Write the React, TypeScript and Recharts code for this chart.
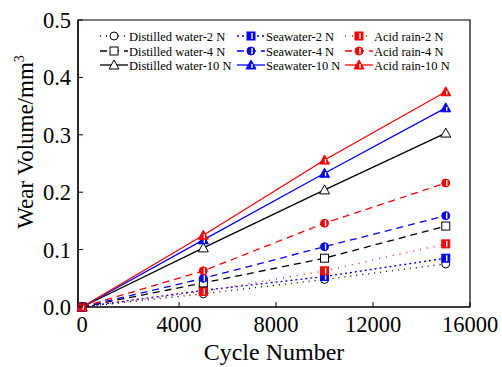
import React from 'react'
import { LineChart, Line, XAxis, YAxis, Legend, ReferenceArea } from 'recharts'

// cycle counts and wear volumes (mm^3)
const cycles = [0, 5000, 10000, 15000]
const distilled2N = [0, 0.023, 0.048, 0.075]
const distilled4N = [0, 0.042, 0.085, 0.141]
const distilled10N = [0, 0.103, 0.204, 0.303]
const seawater2N = [0, 0.029, 0.053, 0.085]
const seawater4N = [0, 0.05, 0.105, 0.159]
const seawater10N = [0, 0.117, 0.233, 0.347]
const acidRain2N = [0, 0.027, 0.063, 0.11]
const acidRain4N = [0, 0.063, 0.146, 0.216]
const acidRain10N = [0, 0.125, 0.256, 0.375]

const xTicks = [0, 4000, 8000, 12000, 16000]
const yTicks = [0, 0.1, 0.2, 0.3, 0.4, 0.5]

const FONT = '"Liberation Serif", "Times New Roman", serif'
const BLACK = '#000000'
const BLUE = '#0000ff'
const RED = '#ff0000'

type Shape = 'circle' | 'square' | 'triangle'

interface Series {
    key: string
    name: string
    values: number[]
    color: string
    dash?: string
    shape: Shape
    open: boolean
}

// legend order: rows = load, columns = medium
const series: Series[] = [
    { key: 'd2', name: 'Distilled water-2 N', values: distilled2N, color: BLACK, dash: '1 5', shape: 'circle', open: true },
    { key: 's2', name: 'Seawater-2 N', values: seawater2N, color: BLUE, dash: '2 3', shape: 'square', open: false },
    { key: 'a2', name: 'Acid rain-2 N', values: acidRain2N, color: RED, dash: '1 6', shape: 'square', open: false },
    { key: 'd4', name: 'Distilled water-4 N', values: distilled4N, color: BLACK, dash: '7 5', shape: 'square', open: true },
    { key: 's4', name: 'Seawater-4 N', values: seawater4N, color: BLUE, dash: '7 5', shape: 'circle', open: false },
    { key: 'a4', name: 'Acid rain-4 N', values: acidRain4N, color: RED, dash: '7 5', shape: 'circle', open: false },
    { key: 'd10', name: 'Distilled water-10 N', values: distilled10N, color: BLACK, shape: 'triangle', open: true },
    { key: 's10', name: 'Seawater-10 N', values: seawater10N, color: BLUE, shape: 'triangle', open: false },
    { key: 'a10', name: 'Acid rain-10 N', values: acidRain10N, color: RED, shape: 'triangle', open: false },
]

const data = cycles.map((c, i) => {
    const row: Record<string, number> = { cycle: c }
    series.forEach((s) => {
        row[s.key] = s.values[i]
    })
    return row
})

const Marker = ({ cx, cy, s }: { cx: number; cy: number; s: Series }) => {
    const fill = s.open ? '#ffffff' : s.color
    let body: React.ReactNode
    if (s.shape === 'circle') {
        body = <circle cx={cx} cy={cy} r={4} fill={fill} stroke={s.color} strokeWidth={1} />
    } else if (s.shape === 'square') {
        body = <rect x={cx - 4} y={cy - 4} width={8} height={8} fill={fill} stroke={s.color} strokeWidth={1} />
    } else {
        body = (
            <polygon
                points={`${cx},${cy - 5} ${cx - 5},${cy + 4} ${cx + 5},${cy + 4}`}
                fill={fill}
                stroke={s.color}
                strokeWidth={1}
            />
        )
    }
    return (
        <g>
            {body}
            {!s.open && (
                <rect
                    x={cx + 0.3}
                    y={s.shape === 'triangle' ? cy - 1 : cy - 3}
                    width={1.4}
                    height={s.shape === 'triangle' ? 4 : 6}
                    fill="#ffffff"
                />
            )}
        </g>
    )
}

const XTick = (props: any) => {
    const { x, y, payload } = props
    return (
        <g>
            <line x1={x} x2={x} y1={y} y2={y - 5} stroke={BLACK} strokeWidth={1} />
            <text x={x} y={y + 25} textAnchor="middle" fontSize={22.5} style={{ fontFamily: FONT }} fill={BLACK}>
                {payload.value}
            </text>
        </g>
    )
}

const YTick = (props: any) => {
    const { x, y, payload } = props
    return (
        <g>
            <line x1={x} x2={x + 5} y1={y} y2={y} stroke={BLACK} strokeWidth={1} />
            <text x={x - 7} y={y + 8} textAnchor="end" fontSize={22.5} style={{ fontFamily: FONT }} fill={BLACK}>
                {Number(payload.value).toFixed(1)}
            </text>
        </g>
    )
}

const colX = [0, 137, 245]
const rowY = [7, 22, 36]

const renderLegend = () => (
    <svg width={400} height={45} style={{ display: 'block', fontFamily: FONT }}>
        {series.map((s, i) => {
            const x0 = colX[i % 3]
            const y0 = rowY[Math.floor(i / 3)]
            return (
                <g key={s.key}>
                    <line x1={x0} x2={x0 + 28} y1={y0} y2={y0} stroke={s.color} strokeWidth={1.3} strokeDasharray={s.dash} />
                    <Marker cx={x0 + 14} cy={y0} s={s} />
                    <text x={x0 + 29} y={y0 + 4.5} fontSize={12.5} style={{ fontFamily: FONT }} fill={BLACK}>
                        {s.name}
                    </text>
                </g>
            )
        })}
    </svg>
)

const YLabel = () => (
    <text
        x={33}
        y={142}
        transform="rotate(-90, 33, 142)"
        textAnchor="middle"
        fontSize={23}
        style={{ fontFamily: FONT }}
        fill={BLACK}
    >
        Wear Volume/mm<tspan dy={-9} fontSize={14}>3</tspan>
    </text>
)

const XLabel = () => (
    <text x={274} y={360} textAnchor="middle" fontSize={24} style={{ fontFamily: FONT }} fill={BLACK}>
        Cycle Number
    </text>
)

export default function App() {
    return (
        <div style={{ position: 'absolute', left: 0, top: 0, fontFamily: FONT }}>
            <LineChart
                width={502}
                height={367}
                data={data}
                margin={{ top: 20, right: 32, bottom: 0, left: 0 }}
                style={{ fontFamily: FONT, background: '#ffffff' }}
            >
                <XAxis
                    dataKey="cycle"
                    type="number"
                    domain={[-170, 16000]}
                    ticks={xTicks}
                    tickLine={false}
                    tickSize={0}
                    tickMargin={0}
                    tick={XTick}
                    height={60}
                    axisLine={{ stroke: BLACK, strokeWidth: 1.2 }}
                    label={{ content: XLabel }}
                />
                <YAxis
                    type="number"
                    domain={[0, 0.5]}
                    ticks={yTicks}
                    tickLine={false}
                    tickSize={0}
                    tickMargin={0}
                    tick={YTick}
                    width={78}
                    axisLine={{ stroke: BLACK, strokeWidth: 1.2 }}
                    label={{ content: YLabel }}
                />
                <ReferenceArea
                    x1={-170}
                    x2={16000}
                    y1={0}
                    y2={0.5}
                    fill="none"
                    fillOpacity={0}
                    stroke={BLACK}
                    strokeWidth={1.2}
                    ifOverflow="visible"
                />
                <Legend
                    verticalAlign="middle"
                    align="center"
                    layout="horizontal"
                    wrapperStyle={{ top: 29, left: 100, width: 400, height: 45 }}
                    content={renderLegend}
                />
                {series.map((s) => (
                    <Line
                        key={s.key}
                        dataKey={s.key}
                        name={s.name}
                        type="linear"
                        stroke={s.color}
                        strokeWidth={1.3}
                        strokeDasharray={s.dash}
                        isAnimationActive={false}
                        dot={(p: any) => <Marker key={`${s.key}-${p.index}`} cx={p.cx} cy={p.cy} s={s} />}
                        activeDot={false}
                    />
                ))}
            </LineChart>
        </div>
    )
}
